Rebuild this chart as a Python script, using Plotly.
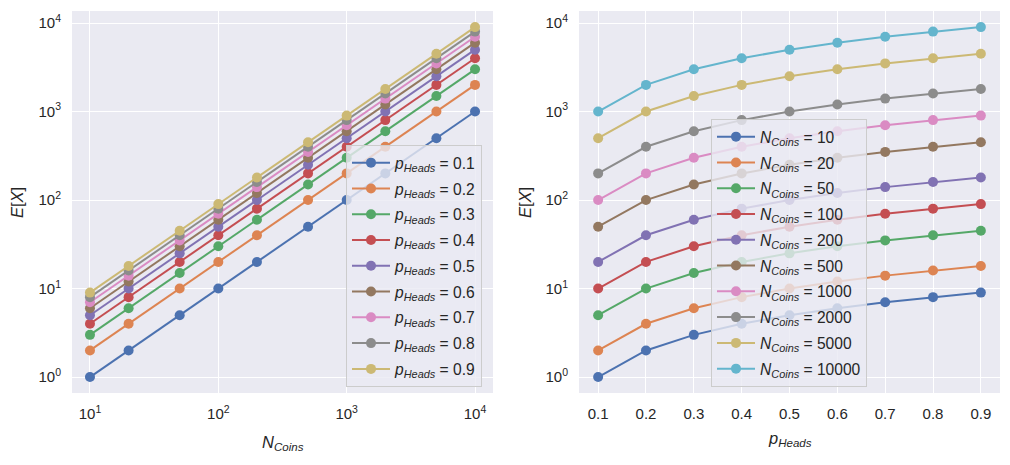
import plotly.graph_objects as go

# ---- data ----
n_coins = [10, 20, 50, 100, 200, 500, 1000, 2000, 5000, 10000]
p_heads = [0.1, 0.2, 0.3, 0.4, 0.5, 0.6, 0.7, 0.8, 0.9]

ex_p01 = [1, 2, 5, 10, 20, 50, 100, 200, 500, 1000]
ex_p02 = [2, 4, 10, 20, 40, 100, 200, 400, 1000, 2000]
ex_p03 = [3, 6, 15, 30, 60, 150, 300, 600, 1500, 3000]
ex_p04 = [4, 8, 20, 40, 80, 200, 400, 800, 2000, 4000]
ex_p05 = [5, 10, 25, 50, 100, 250, 500, 1000, 2500, 5000]
ex_p06 = [6, 12, 30, 60, 120, 300, 600, 1200, 3000, 6000]
ex_p07 = [7, 14, 35, 70, 140, 350, 700, 1400, 3500, 7000]
ex_p08 = [8, 16, 40, 80, 160, 400, 800, 1600, 4000, 8000]
ex_p09 = [9, 18, 45, 90, 180, 450, 900, 1800, 4500, 9000]
ex_rows = [ex_p01, ex_p02, ex_p03, ex_p04, ex_p05, ex_p06, ex_p07, ex_p08, ex_p09]

y_ticks = [1, 10, 100, 1000, 10000]
y_tick_text = ["10<sup>0</sup>", "10<sup>1</sup>", "10<sup>2</sup>", "10<sup>3</sup>", "10<sup>4</sup>"]
x_left_ticks = [10, 100, 1000, 10000]
x_left_text = ["10<sup>1</sup>", "10<sup>2</sup>", "10<sup>3</sup>", "10<sup>4</sup>"]
x_right_ticks = [0.1, 0.2, 0.3, 0.4, 0.5, 0.6, 0.7, 0.8, 0.9]
x_right_text = ["0.1", "0.2", "0.3", "0.4", "0.5", "0.6", "0.7", "0.8", "0.9"]

colors = ["#4C72B0", "#DD8452", "#55A868", "#C44E52", "#8172B3",
          "#937860", "#DA8BC3", "#8C8C8C", "#CCB974", "#64B5CD"]

FONT = "Liberation Sans, Arial, sans-serif"
TXT = "#262626"

fig = go.Figure()

# left panel: E[X] vs N for each p
for i, p in enumerate(p_heads):
    fig.add_trace(go.Scatter(
        x=n_coins, y=ex_rows[i], mode="lines+markers",
        line=dict(color=colors[i], width=2),
        marker=dict(color=colors[i], size=10),
        name=f"<i>p</i><sub><i>Heads</i></sub> = {p}",
        legendgroup=f"p{i}",
        xaxis="x", yaxis="y", legend="legend",
    ))

# right panel: E[X] vs p for each N
for j, n in enumerate(n_coins):
    fig.add_trace(go.Scatter(
        x=p_heads, y=[row[j] for row in ex_rows], mode="lines+markers",
        line=dict(color=colors[j], width=2),
        marker=dict(color=colors[j], size=10),
        name=f"<i>N</i><sub><i>Coins</i></sub> = {n}",
        legendgroup=f"n{j}",
        xaxis="x2", yaxis="y2", legend="legend2",
    ))

axis_common = dict(showgrid=True, gridcolor="white", gridwidth=1.3, zeroline=False,
                   showline=False, ticks="", tickfont=dict(family=FONT, size=15, color=TXT))

legend_common = dict(xanchor="left", yanchor="bottom",
                     bgcolor="rgba(234,234,242,0.8)", bordercolor="#CCCCCC", borderwidth=1,
                     itemwidth=38, tracegroupgap=2.5,
                     font=dict(family=FONT, size=15.6, color=TXT))

title_font = dict(size=16.5, family=FONT, color=TXT)

fig.update_layout(
    width=1010, height=465,
    margin=dict(l=0, r=0, t=0, b=0),
    paper_bgcolor="white", plot_bgcolor="#EAEAF2",
    font=dict(family=FONT, size=15, color=TXT),
    xaxis=dict(domain=[72 / 1010, 493 / 1010], type="log", range=[0.86, 4.14],
               tickvals=x_left_ticks, ticktext=x_left_text, anchor="y",
               ticklabelstandoff=10, **axis_common),
    yaxis=dict(domain=[1 - 393 / 465, 1 - 11 / 465], type="log", range=[-0.18, 4.136],
               tickvals=y_ticks, ticktext=y_tick_text, anchor="x",
               ticklabelstandoff=10, **axis_common),
    xaxis2=dict(domain=[579 / 1010, 1000 / 1010], range=[0.06, 0.94],
                tickvals=x_right_ticks, ticktext=x_right_text, anchor="y2",
                ticklabelstandoff=10, **axis_common),
    yaxis2=dict(domain=[1 - 393 / 465, 1 - 11 / 465], type="log", range=[-0.18, 4.136],
                tickvals=y_ticks, ticktext=y_tick_text, anchor="x2",
                ticklabelstandoff=10, **axis_common),
    legend=dict(x=346 / 1010, y=1 - 387 / 465, **legend_common),
    legend2=dict(x=711 / 1010, y=1 - 387 / 465, **legend_common),
    annotations=[
        dict(text="<i>N</i><sub><i>Coins</i></sub>", x=(72 + 493) / 2 / 1010, y=1 - 443 / 465,
             xanchor="center", yanchor="middle",
             xref="paper", yref="paper", showarrow=False, font=title_font),
        dict(text="<i>p</i><sub><i>Heads</i></sub>", x=(579 + 1000) / 2 / 1010, y=1 - 439 / 465,
             xanchor="center", yanchor="middle",
             xref="paper", yref="paper", showarrow=False, font=title_font),
        dict(text="<i>E</i>[<i>X</i>]", x=17 / 1010, y=1 - 203 / 465, textangle=-90,
             xanchor="center", yanchor="middle",
             xref="paper", yref="paper", showarrow=False, font=title_font),
        dict(text="<i>E</i>[<i>X</i>]", x=525 / 1010, y=1 - 203 / 465, textangle=-90,
             xanchor="center", yanchor="middle",
             xref="paper", yref="paper", showarrow=False, font=title_font),
    ],
)

fig.write_html("out.html")
